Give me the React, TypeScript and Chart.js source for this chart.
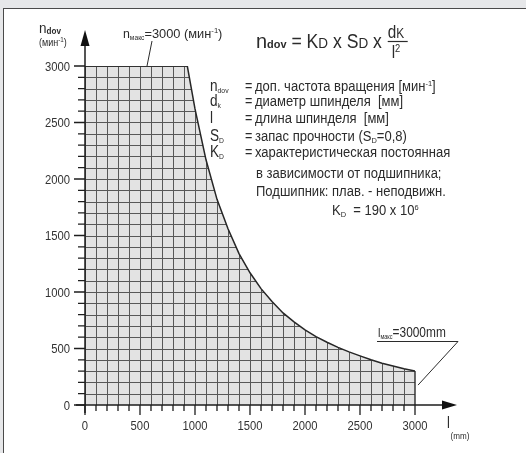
import React, { useEffect, useRef } from 'react';
import { Chart, registerables } from 'chart.js';

Chart.register(...registerables);

// ---- data ----
const lengthMm = [0, 930, 1000, 1100, 1200, 1300, 1400, 1500, 1600, 1700, 1800, 1900, 2000, 2100, 2200, 2300, 2400, 2500, 2600, 2700, 2800, 2900, 3000];
const speedRpm = [3000, 3000, 2620, 2170, 1820, 1560, 1340, 1170, 1030, 915, 815, 735, 665, 605, 555, 510, 470, 435, 400, 370, 345, 320, 300];
const xTickLabels = ['0', '500', '1000', '1500', '2000', '2500', '3000'];
const yTickLabels = ['0', '500', '1000', '1500', '2000', '2500', '3000'];
const axisMax = 3000;
const gridStep = 100;
const majorStep = 500;

const legendSymbols = [['n', 'dov'], ['d', 'k'], ['l', ''], ['S', 'D'], ['K', 'D']];
const legendTexts = [
  ['доп. частота вращения [мин', '-1', ']'],
  ['диаметр шпинделя  [мм]'],
  ['длина шпинделя  [мм]'],
  ['запас прочности (S', 'D', '=0,8)'],
  ['характеристическая постоянная'],
  ['в зависимости от подшипника;'],
  ['Подшипник: плав. - неподвижн.'],
];

const FONT = '"Liberation Sans", Arial, sans-serif';
const INK = '#2b2b2b';

type TOpts = { align?: string; sx?: number; bold?: boolean; color?: string };

function txt(ctx: CanvasRenderingContext2D, s: string, x: number, y: number, size: number, opts: TOpts = {}) {
  const { align = 'left', sx = 1, bold = false, color = INK } = opts;
  ctx.save();
  ctx.font = `${bold ? 'bold ' : ''}${size}px ${FONT}`;
  ctx.fillStyle = color;
  ctx.textBaseline = 'alphabetic';
  const w = ctx.measureText(s).width * sx;
  const dx = align === 'center' ? -w / 2 : align === 'right' ? -w : 0;
  ctx.translate(x + dx, y);
  ctx.scale(sx, 1);
  ctx.fillText(s, 0, 0);
  ctx.restore();
  return w;
}

type Part = { t: string; size: number; dy?: number; sx?: number; bold?: boolean };
function rich(ctx: CanvasRenderingContext2D, parts: Part[], x: number, y: number, sxDefault = 0.82) {
  let cx = x;
  for (const p of parts) {
    cx += txt(ctx, p.t, cx, y + (p.dy || 0), p.size, { sx: p.sx ?? sxDefault, bold: p.bold });
  }
  return cx;
}

const gridPlugin = {
  id: 'gridFill',
  beforeDatasetsDraw(chart: any) {
    const ctx: CanvasRenderingContext2D = chart.ctx;
    const xs = chart.scales.x;
    const ys = chart.scales.y;
    const pts = chart.getDatasetMeta(0).data;
    const y0 = ys.getPixelForValue(0);
    ctx.save();
    ctx.beginPath();
    ctx.moveTo(pts[0].x, y0);
    pts.forEach((p: any) => ctx.lineTo(p.x, p.y));
    ctx.lineTo(pts[pts.length - 1].x, y0);
    ctx.closePath();
    ctx.fillStyle = '#e3e3e3';
    ctx.fill();
    ctx.clip();
    ctx.strokeStyle = '#585858';
    ctx.lineWidth = 1;
    for (let v = 0; v <= axisMax; v += gridStep) {
      const px = Math.round(xs.getPixelForValue(v)) + 0.5;
      const py = Math.round(ys.getPixelForValue(v)) + 0.5;
      ctx.beginPath();
      ctx.moveTo(px, ys.getPixelForValue(axisMax) - 5);
      ctx.lineTo(px, y0);
      ctx.stroke();
      ctx.beginPath();
      ctx.moveTo(xs.getPixelForValue(0), py);
      ctx.lineTo(xs.getPixelForValue(axisMax) + 5, py);
      ctx.stroke();
    }
    ctx.restore();
    // right edge at l = 3000
    const last = pts[pts.length - 1];
    ctx.save();
    ctx.strokeStyle = INK;
    ctx.lineWidth = 1.4;
    ctx.beginPath();
    ctx.moveTo(last.x, last.y);
    ctx.lineTo(last.x, y0);
    ctx.stroke();
    ctx.restore();
  },
  afterDatasetsDraw(chart: any) {
    const ctx: CanvasRenderingContext2D = chart.ctx;
    const xs = chart.scales.x;
    const ys = chart.scales.y;
    const x0 = xs.getPixelForValue(0);
    const y0 = ys.getPixelForValue(0);
    const xEnd = xs.getPixelForValue(axisMax);
    const yTop = ys.getPixelForValue(axisMax);
    ctx.save();
    ctx.strokeStyle = '#1e1e1e';
    ctx.fillStyle = '#111';
    ctx.lineWidth = 1.5;
    // axes
    ctx.beginPath();
    ctx.moveTo(x0 - 9, y0);
    ctx.lineTo(xEnd + 30, y0);
    ctx.moveTo(x0, y0 + 8);
    ctx.lineTo(x0, yTop - 24);
    ctx.stroke();
    // arrows
    ctx.beginPath();
    ctx.moveTo(xEnd + 42, y0);
    ctx.lineTo(xEnd + 27, y0 - 4.5);
    ctx.lineTo(xEnd + 27, y0 + 4.5);
    ctx.closePath();
    ctx.fill();
    ctx.beginPath();
    ctx.moveTo(x0, yTop - 36);
    ctx.lineTo(x0 - 4.5, yTop - 20);
    ctx.lineTo(x0 + 4.5, yTop - 20);
    ctx.closePath();
    ctx.fill();
    // ticks
    ctx.lineWidth = 1.3;
    for (let v = 0; v <= axisMax; v += gridStep) {
      const major = v % majorStep === 0;
      const px = xs.getPixelForValue(v);
      const py = ys.getPixelForValue(v);
      ctx.beginPath();
      ctx.moveTo(px, y0);
      ctx.lineTo(px, y0 + (major ? 10 : 6));
      ctx.moveTo(x0, py);
      ctx.lineTo(x0 - (major ? 11 : 7), py);
      ctx.stroke();
    }
    ctx.restore();

    // tick labels
    xTickLabels.forEach((s) => {
      txt(ctx, s, xs.getPixelForValue(Number(s)), y0 + 25, 12.5, { align: 'center', sx: 0.9, color: '#333' });
    });
    yTickLabels.forEach((s) => {
      txt(ctx, s, x0 - 15, ys.getPixelForValue(Number(s)) + 4.5, 12.5, { align: 'right', sx: 0.9, color: '#333' });
    });

    // axis titles
    rich(ctx, [{ t: 'n', size: 15 }, { t: 'dov', size: 9, dy: 1, bold: true }], 39, 33, 0.9);
    rich(ctx, [{ t: '(мин', size: 10 }, { t: '-1', size: 7, dy: -4 }, { t: ')', size: 10 }], 39, 46, 0.9);
    txt(ctx, 'l', xEnd + 32, y0 + 23, 16, { sx: 0.8 });
    txt(ctx, '(mm)', xEnd + 45, y0 + 34, 9.5, { align: 'center', sx: 0.85 });

    // n max annotation
    rich(ctx, [
      { t: 'n', size: 13 }, { t: 'макс', size: 7, dy: 1.5 }, { t: '=3000 (мин', size: 13.5 },
      { t: '-1', size: 8, dy: -5 }, { t: ')', size: 13.5 },
    ], 123, 38, 0.95);
    ctx.save();
    ctx.strokeStyle = INK;
    ctx.lineWidth = 1;
    ctx.beginPath();
    ctx.moveTo(152, 41);
    ctx.lineTo(147, yTop);
    ctx.stroke();
    ctx.restore();

    // l max annotation
    rich(ctx, [{ t: 'l', size: 13 }, { t: 'макс', size: 6.5, dy: 1.5 }, { t: '=3000mm', size: 14 }], 378, 337, 0.85);
    ctx.save();
    ctx.strokeStyle = INK;
    ctx.lineWidth = 1;
    ctx.beginPath();
    ctx.moveTo(377, 341.5);
    ctx.lineTo(458, 341.5);
    ctx.lineTo(xEnd + 3, ys.getPixelForValue(speedRpm[speedRpm.length - 1]) + 14);
    ctx.stroke();
    ctx.restore();

    // formula
    let fx = rich(ctx, [{ t: 'n', size: 21, sx: 0.95 }, { t: 'dov', size: 11.5, dy: 0, bold: true, sx: 0.95 }], 256, 48);
    fx = rich(ctx, [{ t: ' = K', size: 20, sx: 0.88 }, { t: 'D', size: 15, sx: 0.9 }, { t: ' x S', size: 20, sx: 0.88 }, { t: 'D', size: 15, sx: 0.9 }, { t: ' x ', size: 20, sx: 0.88 }], fx, 48);
    rich(ctx, [{ t: 'd', size: 18, sx: 0.85 }, { t: 'K', size: 14, sx: 0.85 }], fx + 1, 38);
    rich(ctx, [{ t: 'l', size: 18, sx: 0.85 }, { t: '2', size: 11, dy: -6, sx: 0.85 }], fx + 5, 58);
    ctx.save();
    ctx.strokeStyle = INK;
    ctx.lineWidth = 1.2;
    ctx.beginPath();
    ctx.moveTo(fx + 1, 41.5);
    ctx.lineTo(fx + 21, 41.5);
    ctx.stroke();
    ctx.restore();

    // legend
    const base = [91, 106, 123, 141, 157, 178, 196, 215];
    legendSymbols.forEach((s, i) => {
      rich(ctx, [{ t: s[0], size: 16 }, { t: s[1], size: 8, dy: 2 }], 210, base[i], 0.85);
      txt(ctx, '=', 245, base[i], 14, { sx: 0.9 });
    });
    legendTexts.forEach((row, i) => {
      const parts: Part[] = row.map((t, j) => {
        if (row.length === 3 && j === 1) {
          return i === 0 ? { t, size: 8, dy: -5 } : { t, size: 8, dy: 2 };
        }
        return { t, size: 14 };
      });
      rich(ctx, parts, i < 5 ? 255 : 256, base[i], 0.93);
    });
    rich(ctx, [
      { t: 'K', size: 14 }, { t: 'D', size: 8, dy: 2 }, { t: '  = 190 x 10', size: 14 }, { t: '6', size: 8, dy: -5 },
    ], 332, base[7], 0.93);
  },
};

export default function App() {
  const ref = useRef<HTMLCanvasElement | null>(null);
  useEffect(() => {
    document.body.style.margin = '0';
    const canvas = ref.current;
    if (!canvas) return;
    const chart = new Chart(canvas, {
      type: 'line',
      data: {
        datasets: [
          {
            data: lengthMm.map((x, i) => ({ x, y: speedRpm[i] })),
            borderColor: '#262626',
            borderWidth: 1.5,
            pointRadius: 0,
            tension: 0,
            fill: false,
          },
        ],
      },
      options: {
        animation: false,
        responsive: false,
        devicePixelRatio: 1,
        layout: { padding: { left: 85, right: 111, top: 66, bottom: 48 } },
        plugins: { legend: { display: false }, tooltip: { enabled: false } },
        scales: {
          x: { type: 'linear', min: 0, max: axisMax, display: false },
          y: { type: 'linear', min: 0, max: axisMax, display: false },
        },
      },
      plugins: [gridPlugin],
    });
    return () => chart.destroy();
  }, []);
  return (
    <div style={{ position: 'relative', width: 526, height: 453, background: '#e6e7e9', overflow: 'hidden' }}>
      <div
        style={{
          position: 'absolute', left: 3, top: 8, width: 540, height: 460, background: '#fff',
          borderLeft: '1.5px solid #4a4a4a', borderTop: '1.5px solid #4a4a4a', boxSizing: 'border-box',
        }}
      />
      <canvas ref={ref} width={526} height={453} style={{ position: 'absolute', left: 0, top: 0, width: 526, height: 453 }} />
    </div>
  );
}
